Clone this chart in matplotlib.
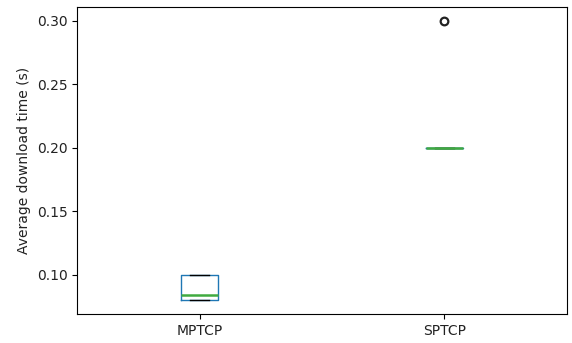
import matplotlib
matplotlib.use('Agg')
import matplotlib.pyplot as plt

# per-run average download times (s)
labels = ['MPTCP', 'SPTCP']
mptcp = [0.08, 0.08, 0.08, 0.084, 0.10, 0.10, 0.10]
sptcp = [0.20, 0.20, 0.20, 0.20, 0.20, 0.20, 0.30]

fig = plt.figure(figsize=(5.72, 3.43), dpi=100)
ax = fig.add_axes([0.135, 0.085, 0.856, 0.895])
bp = ax.boxplot([mptcp, sptcp], tick_labels=labels,
                boxprops=dict(color='#1f77b4'),
                whiskerprops=dict(color='#1f77b4'),
                capprops=dict(color='k'),
                medianprops=dict(color='#40aa40', linewidth=1.8, zorder=5),
                flierprops=dict(marker='o', markersize=5.5, markeredgewidth=1.6,
                                markeredgecolor='#222222', markerfacecolor='none'))
ax.set_ylabel('Average download time (s)', color='#222222')
ax.tick_params(labelcolor='#222222')
fig.savefig('out.png', dpi=100)
